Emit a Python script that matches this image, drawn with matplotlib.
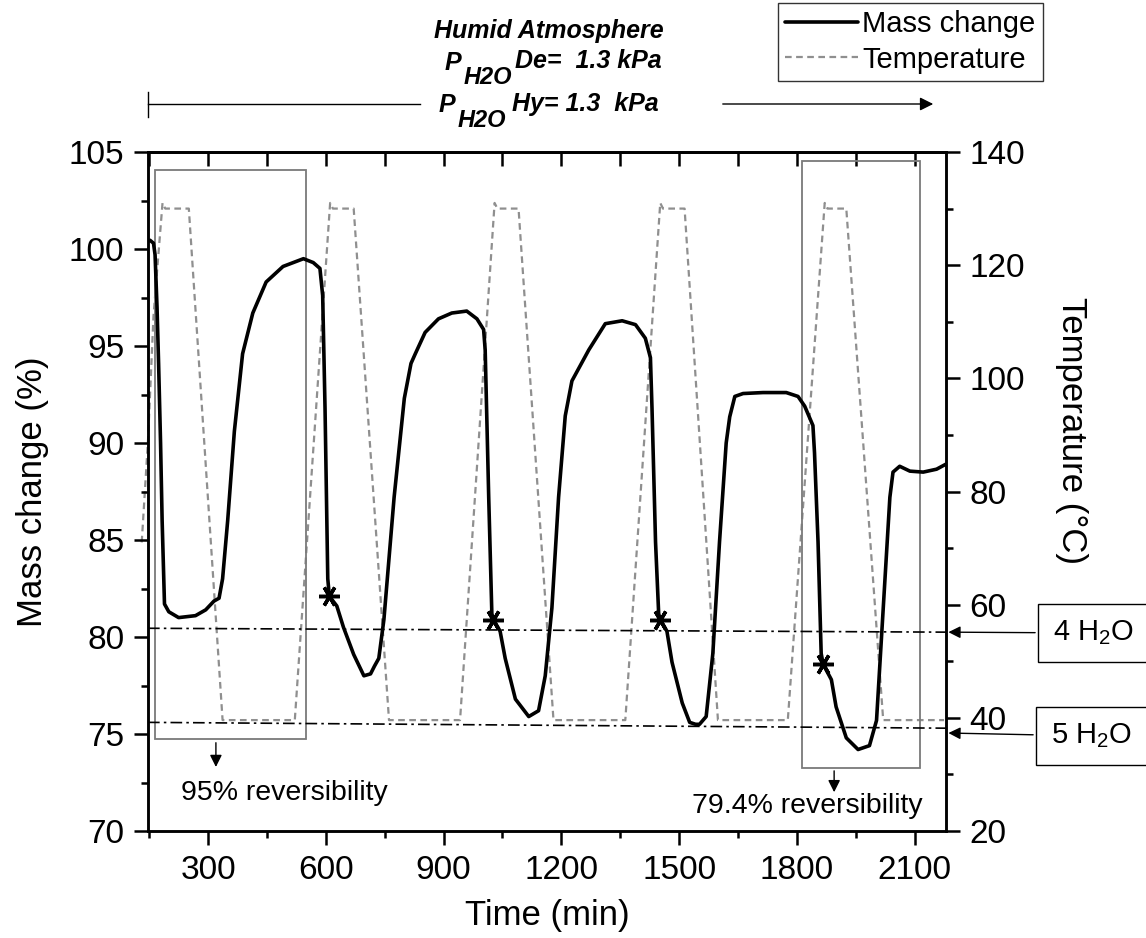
import matplotlib
matplotlib.use("Agg")
import matplotlib.pyplot as plt
from matplotlib.patches import Rectangle, FancyArrowPatch
from matplotlib.lines import Line2D
from matplotlib.ticker import MultipleLocator

plt.rcParams['font.family'] = ['Liberation Sans', 'DejaVu Sans']
plt.rcParams['mathtext.fontset'] = 'custom'
plt.rcParams['mathtext.rm'] = 'Liberation Sans'
plt.rcParams['mathtext.it'] = 'Liberation Sans:italic'

# mass change curve (time in min, mass in %)
time_mass = [147, 152, 161, 165, 170, 174, 179, 183, 189, 200, 225, 268, 294, 315, 328,
             337, 350, 367, 388, 414, 448, 491, 543, 568, 585, 592, 598, 605, 609, 628,
             645, 671, 697, 714, 724, 735, 748, 774, 800, 817, 828, 853, 887, 921, 959,
             985, 1002, 1006, 1015, 1023, 1027, 1044, 1057, 1083, 1117, 1142, 1159, 1176,
             1193, 1210, 1227, 1270, 1312, 1355, 1389, 1414, 1427, 1431, 1440, 1448, 1452,
             1469, 1482, 1508, 1527, 1542, 1552, 1569, 1586, 1603, 1620, 1629, 1642, 1663,
             1714, 1773, 1803, 1820, 1841, 1845, 1854, 1862, 1867, 1888, 1900, 1926, 1956,
             1985, 2003, 2020, 2037, 2045, 2062, 2088, 2122, 2156, 2179]
mass = [100.4, 100.45, 100.3, 99.7, 97.0, 94.1, 90.0, 86.0, 81.7, 81.3, 81.0, 81.1, 81.4, 81.85, 82.0,
        83.0, 86.0, 90.6, 94.6, 96.7, 98.3, 99.1, 99.5, 99.3, 99.0, 97.6, 91.8, 83.0, 82.1, 81.6,
        80.5, 79.1, 78.0, 78.1, 78.5, 78.9, 80.9, 87.2, 92.3, 94.1, 94.6, 95.7, 96.4, 96.7, 96.8,
        96.4, 95.85, 94.8, 87.2, 81.2, 80.9, 80.3, 78.9, 76.8, 75.9, 76.2, 78.0, 81.5,
        87.2, 91.4, 93.2, 94.8, 96.15, 96.3, 96.1, 95.4, 94.4, 91.8, 84.9, 81.2, 80.9,
        80.3, 78.7, 76.6, 75.6, 75.5, 75.5, 75.9, 79.15, 84.9, 90.0, 91.35, 92.4, 92.55,
        92.6, 92.6, 92.4, 91.9, 90.9, 89.5, 84.9, 79.15, 78.6, 77.8, 76.4, 74.8, 74.2,
        74.4, 75.7, 81.45, 87.2, 88.5, 88.8, 88.55, 88.5, 88.65, 88.9]

# temperature program
time_temp = [131, 147, 161, 184, 191, 251, 337, 521, 611, 618, 671, 761, 942, 1030, 1037,
             1091, 1180, 1363, 1452, 1459, 1514, 1599, 1777, 1871, 1878, 1926, 2020, 2175]
temp = [71, 89, 111, 131, 130, 130, 39.6, 39.6, 131, 130, 130, 39.6, 39.6, 131, 130,
        130, 39.6, 39.6, 131, 130, 130, 39.6, 39.6, 131, 130, 130, 39.6, 39.6]

# marked points at the start of each hydration step
star_t = [609, 1027, 1452, 1867]
star_m = [82.1, 80.9, 80.9, 78.6]

# hydrate reference levels (dash-dot), start and end
h4_t, h4_m = [147, 2180], [80.45, 80.25]
h5_t, h5_m = [147, 2180], [75.6, 75.3]

W, H = 1146, 938
fig = plt.figure(figsize=(W / 100, H / 100), dpi=100)
ax = fig.add_axes([148 / W, 1 - 831 / H, (946 - 148) / W, (831 - 152) / H])
ax2 = ax.twinx()
ax.set_zorder(ax2.get_zorder() + 1)
ax.patch.set_visible(False)

tcol = '#8f8f8f'
ax2.plot(time_temp, temp, color=tcol, lw=1.6, ls=(0, (3, 2)), clip_on=False)
ln_mass, = ax.plot(time_mass, mass, color='black', lw=2.6, solid_capstyle='round',
                   solid_joinstyle='round')
ax.plot(star_t, star_m, ls='none', marker=(6, 2, 90), ms=15, mew=2.5, color='black')
ax.plot(h4_t, h4_m, color='black', lw=1.2, ls=(0, (7, 2.5, 1.5, 2.5)))
ax.plot(h5_t, h5_m, color='black', lw=1.2, ls=(0, (7, 2.5, 1.5, 2.5)))

# boxes around first and last cycle
ax.add_patch(Rectangle((165, 74.74), 385, 29.33, fill=False, ec='#7a7a7a', lw=1.3))
ax.add_patch(Rectangle((1812, 73.25), 302, 31.29, fill=False, ec='#7a7a7a', lw=1.3))

arr = dict(arrowstyle='-|>', color='black', lw=1.0, mutation_scale=18, shrinkA=0, shrinkB=0)
ax.annotate('', xy=(320, 73.3), xytext=(320, 74.55), arrowprops=arr)
ax.annotate('', xy=(1895, 72.0), xytext=(1895, 73.1), arrowprops=arr)
ax.text(495, 71.95, '95% reversibility', fontsize=20.5, ha='center', va='center')
ax.text(1826, 71.3, '79.4% reversibility', fontsize=20.5, ha='center', va='center')

ax.set_xlim(147, 2180)
ax.set_ylim(70, 105)
ax2.set_ylim(20, 140)

ax.xaxis.set_major_locator(MultipleLocator(300))
ax.xaxis.set_minor_locator(MultipleLocator(150))
ax.yaxis.set_major_locator(MultipleLocator(5))
ax.yaxis.set_minor_locator(MultipleLocator(2.5))
ax2.yaxis.set_major_locator(MultipleLocator(20))
ax2.yaxis.set_minor_locator(MultipleLocator(10))

for a in (ax, ax2):
    for s in a.spines.values():
        s.set_linewidth(1.8)
ax.tick_params(which='major', direction='out', length=10, width=1.8, labelsize=24, pad=7)
ax.tick_params(which='minor', direction='out', length=5, width=1.8)
ax2.tick_params(which='major', direction='out', length=10, width=1.8, labelsize=24, pad=7)
ax2.tick_params(which='minor', direction='out', length=5, width=1.8)

top = ax.secondary_xaxis('top')
top.xaxis.set_major_locator(MultipleLocator(300))
top.xaxis.set_minor_locator(MultipleLocator(150))
top.tick_params(which='both', direction='in', length=10, width=1.8, labeltop=False)
top.spines['top'].set_linewidth(1.8)

ax.set_xlabel('Time (min)', fontsize=25, labelpad=10)
ax.set_ylabel('Mass change (%)', fontsize=25, labelpad=14)
ax2.set_ylabel('Temperature (°C)', fontsize=25, rotation=270, va='center')
ax2.yaxis.set_label_coords(1.157, 0.59)

# hydrate labels on the right
box = dict(boxstyle='square,pad=0.5', fc='white', ec='black', lw=1.0)
harr = dict(arrowstyle='-|>', color='black', lw=1.0, mutation_scale=18, shrinkB=0)
ax.annotate('4 H$_\\mathregular{2}$O', xy=(1.003, 80.25), xycoords=('axes fraction', 'data'),
            xytext=(1053 / W, 1 - 633 / H), textcoords='figure fraction',
            fontsize=21, ha='left', va='center', bbox=box, arrowprops=harr)
ax.annotate('5 H$_\\mathregular{2}$O', xy=(1.003, 75.05), xycoords=('axes fraction', 'data'),
            xytext=(1051 / W, 1 - 736 / H), textcoords='figure fraction',
            fontsize=21, ha='left', va='center', bbox=box, arrowprops=harr)

# header text and arrow
bi = dict(fontweight='bold', style='italic', va='baseline')
fig.text(549 / W, 1 - 38 / H, 'Humid Atmosphere', ha='center', fontsize=18, **bi)
fig.text(445 / W, 1 - 70 / H, 'P', fontsize=18, **bi)
fig.text(464 / W, 1 - 84 / H, 'H2O', fontsize=17, **bi)
fig.text(515 / W, 1 - 68 / H, 'De=  1.3 kPa', fontsize=18, **bi)
fig.text(439 / W, 1 - 112 / H, 'P', fontsize=18, **bi)
fig.text(458 / W, 1 - 127 / H, 'H2O', fontsize=17, **bi)
fig.text(512 / W, 1 - 111 / H, 'Hy= 1.3  kPa', fontsize=18, **bi)

fig.add_artist(Line2D([148 / W, 420 / W], [1 - 104 / H] * 2, color='black', lw=1.0))
fig.add_artist(Line2D([148 / W] * 2, [1 - 92 / H, 1 - 117 / H], color='black', lw=1.0))
fig.add_artist(FancyArrowPatch((720 / W, 1 - 104 / H), (936 / W, 1 - 104 / H),
                               transform=fig.transFigure, arrowstyle='-|>',
                               color='black', lw=1.0, mutation_scale=20))

temp_handle = Line2D([], [], color=tcol, lw=1.6, ls=(0, (3, 2)))
leg = fig.legend([ln_mass, temp_handle], ['Mass change', 'Temperature'],
                 loc='upper right', bbox_to_anchor=(1043 / W, 1 - 3 / H),
                 fontsize=21, frameon=True, fancybox=False, edgecolor='black',
                 handlelength=2.5, borderpad=0.25, labelspacing=0.25, handletextpad=0.15,
                 borderaxespad=0)
leg.get_frame().set_linewidth(1.0)

fig.savefig('out.png', dpi=100)
